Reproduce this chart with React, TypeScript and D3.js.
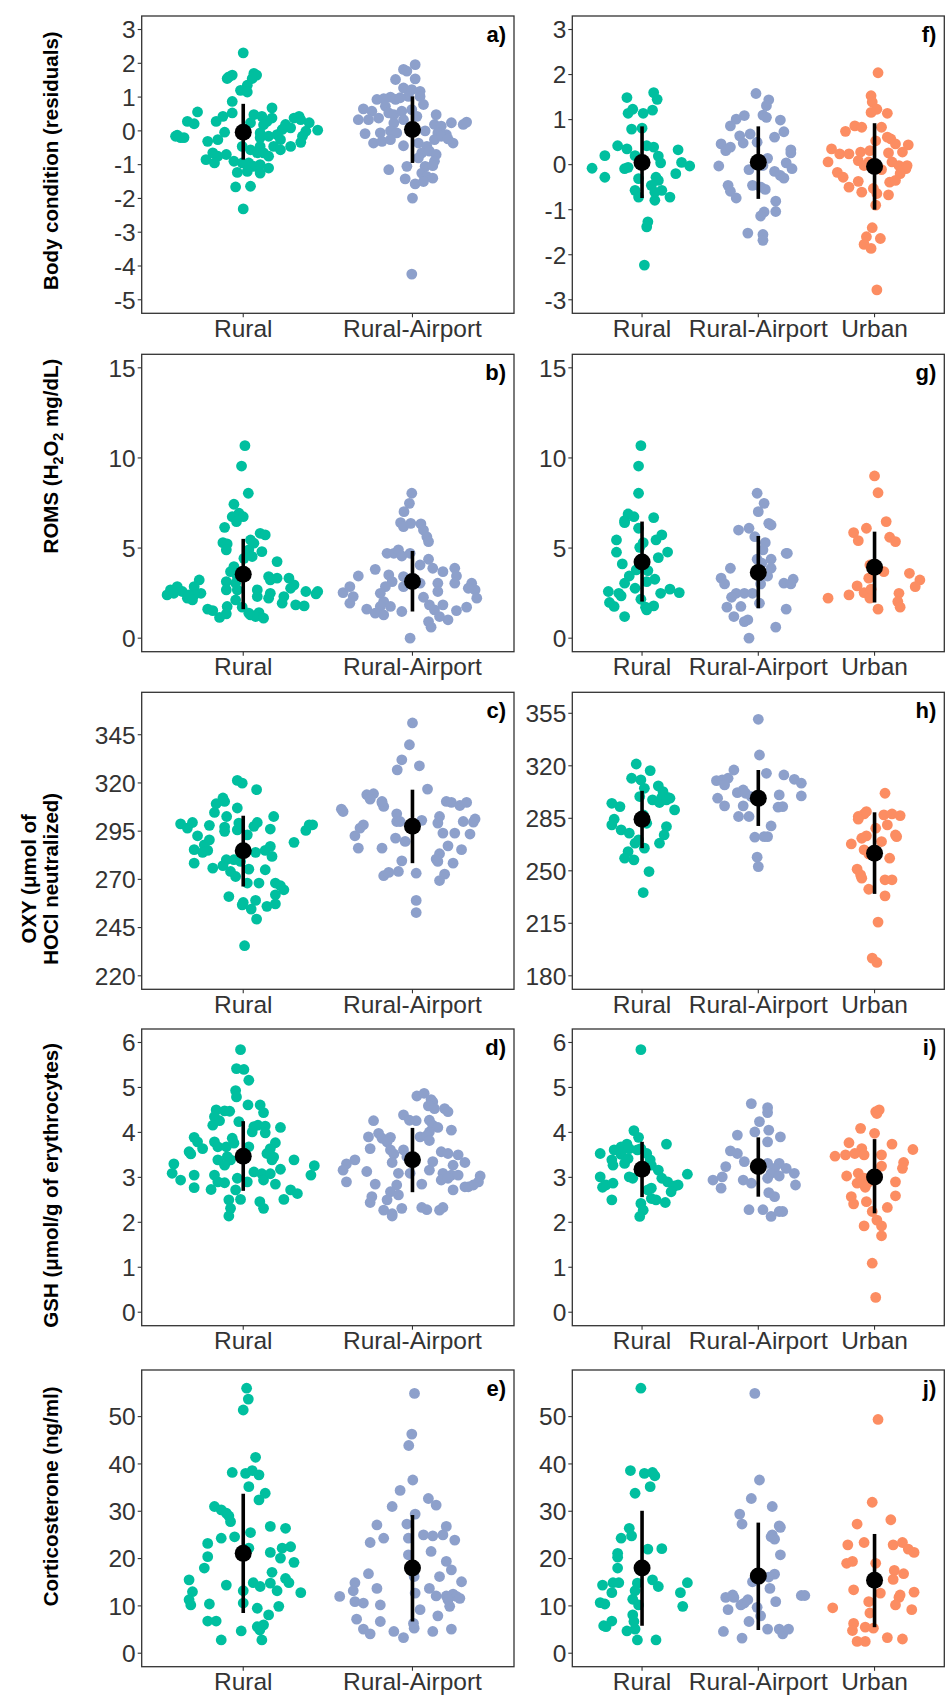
import React from "react";
import * as d3 from "d3";

type Pt = [number, number]; // [jitter offset in category units, value]
type Summ = [number, number, number]; // [mean, lower, upper]

const cats2 = ["Rural", "Rural-Airport"];
const cats3 = ["Rural", "Rural-Airport", "Urban"];
const groupColors: Record<string, string> = { Rural: "#00BF9F", "Rural-Airport": "#8DA0CB", Urban: "#FC8D62" };

// ---- Body condition ----
const aRural: Pt[] = [[0,2.31],[-0.085,1.6],[-0.065,1.65],[-0.095,1.55],[0.063,1.7],[0.079,1.65],[0.053,1.55],[0.024,1.35],[-0.016,1.2],[0.024,1.15],[-0.065,0.87],[-0.27,0.56],[-0.33,0.28],[-0.29,0.21],[-0.39,-0.13],[-0.37,-0.2],[-0.35,-0.2],[-0.4,-0.16],[-0.065,0.53],[-0.12,0.43],[-0.16,0.28],[0.063,0.48],[0.11,0.43],[0.17,0.68],[0.17,0.38],[0.14,0.28],[0.12,0.18],[-0.21,-0.31],[-0.15,-0.26],[-0.11,-0.04],[0.043,0.24],[0.10,-0.06],[0.10,-0.2],[0.15,-0.16],[0.20,-0.11],[0.23,0.04],[0.25,0.19],[0.28,0.09],[0.22,-0.26],[0.30,0.38],[0.33,0.43],[0.34,0.33],[0.39,0.24],[0.44,0.02],[0.37,-0.01],[0.35,-0.16],[0.34,-0.34],[0.28,-0.46],[0.18,-0.46],[0.22,-0.56],[-0.006,-0.46],[0.043,-0.56],[0.10,-0.46],[0.083,-0.65],[0.12,-0.65],[-0.18,-0.65],[-0.15,-0.75],[-0.10,-0.70],[-0.22,-0.85],[-0.17,-0.95],[-0.055,-0.90],[-0.006,-0.95],[0.033,-0.95],[0.063,-1.05],[0.10,-1.0],[0.15,-0.75],[0.15,-1.1],[0.10,-1.25],[0.024,-1.2],[-0.035,-1.23],[-0.045,-1.66],[0.043,-1.64],[0,-2.31]];
const aAirport: Pt[] = [[0.016,1.96],[-0.053,1.82],[-0.033,1.77],[-0.10,1.52],[0.016,1.54],[-0.053,1.27],[-0.004,1.22],[0.045,1.17],[-0.024,1.02],[-0.21,0.93],[-0.17,0.95],[-0.13,1.0],[-0.10,0.93],[-0.073,0.98],[0.045,1.02],[0.065,0.78],[-0.29,0.65],[-0.24,0.58],[-0.16,0.73],[-0.14,0.53],[-0.11,0.48],[-0.063,0.58],[-0.004,0.63],[0.026,0.43],[-0.32,0.33],[-0.26,0.33],[-0.20,0.38],[-0.11,0.23],[-0.053,0.33],[0.14,0.48],[0.13,0.19],[0.17,0.14],[0.23,0.24],[0.30,0.19],[0.32,0.26],[-0.28,-0.08],[-0.19,-0.06],[-0.13,0],[-0.093,-0.06],[0.075,0],[0.15,-0.06],[0.20,-0.11],[0.24,-0.36],[-0.23,-0.36],[-0.18,-0.31],[-0.13,-0.26],[-0.053,-0.44],[0.035,-0.36],[0.085,-0.46],[0.13,-0.26],[0.17,-0.16],[0.21,-0.24],[0.055,-0.65],[0.10,-0.60],[0.14,-0.70],[0.13,-0.90],[0.035,-0.80],[-0.14,-1.15],[-0.033,-1.05],[0.075,-1.05],[0.12,-1.03],[0.055,-1.25],[0.085,-1.35],[0.12,-1.40],[-0.043,-1.42],[0.016,-1.57],[0.065,-1.50],[0,-1.99],[-0.004,-4.24]];
const fRural: Pt[] = [[-0.13,1.49],[0.10,1.60],[0.13,1.45],[-0.12,1.14],[-0.08,1.23],[0.01,1.14],[0.09,1.21],[-0.09,0.79],[0,0.81],[-0.21,0.42],[-0.13,0.35],[0.04,0.42],[0.10,0.39],[0.31,0.33],[-0.32,0.20],[-0.43,-0.08],[-0.32,-0.28],[-0.06,0.20],[0.14,0.19],[0.16,0.04],[-0.15,-0.09],[-0.12,-0.06],[0.34,0.05],[0.41,-0.03],[0.29,-0.20],[-0.03,-0.31],[0.12,-0.28],[0.14,-0.35],[0.08,-0.46],[0.17,-0.57],[0.24,-0.72],[-0.06,-0.57],[-0.03,-0.72],[0.11,-0.61],[0.11,-0.79],[0.05,-1.27],[0.04,-1.38],[0.02,-2.23]];
const fAirport: Pt[] = [[-0.02,1.58],[0.09,1.44],[0.07,1.31],[-0.12,1.09],[-0.19,1.01],[-0.24,0.86],[0.04,1.10],[0.07,1.05],[0.19,0.99],[0.22,0.73],[-0.16,0.64],[-0.07,0.68],[-0.13,0.48],[0.14,0.61],[-0.32,0.46],[-0.28,0.31],[-0.24,0.39],[-0.01,0.50],[0.28,0.33],[0.28,0.26],[-0.34,-0.03],[0.08,0.14],[-0.08,-0.11],[0.04,-0.02],[0.24,0.04],[0.29,-0.09],[0.14,-0.15],[0.19,-0.24],[0.22,-0.30],[-0.26,-0.46],[-0.24,-0.59],[-0.19,-0.74],[-0.05,-0.46],[0.02,-0.50],[0.06,-0.55],[0.15,-0.81],[0.15,-1.04],[0.05,-1.05],[0.02,-1.14],[-0.09,-1.52],[0.04,-1.55],[0.04,-1.68]];
const fUrban: Pt[] = [[0.03,2.04],[-0.03,1.53],[-0.02,1.39],[0.02,1.23],[-0.03,1.16],[0.11,1.14],[-0.17,0.86],[-0.11,0.83],[-0.25,0.74],[0.06,0.83],[0.01,0.53],[0.11,0.61],[0.14,0.57],[0.18,0.46],[0.29,0.44],[-0.37,0.35],[-0.30,0.24],[-0.22,0.24],[-0.12,0.28],[-0.04,0.31],[0.12,0.26],[0.24,0.28],[-0.40,0.06],[-0.14,0.09],[-0.05,0.06],[0.15,0.06],[0.21,-0.02],[0.28,-0.02],[0.27,-0.09],[-0.09,-0.02],[-0.32,-0.17],[-0.27,-0.28],[0.06,-0.11],[0.22,-0.20],[0.13,-0.39],[0.18,-0.35],[-0.14,-0.37],[-0.22,-0.50],[-0.11,-0.61],[-0.01,-0.53],[0.02,-0.64],[0.12,-0.67],[0.01,-0.90],[-0.02,-1.40],[-0.07,-1.60],[-0.09,-1.77],[-0.03,-1.86],[0.05,-1.64],[0.02,-2.78]];

// ---- ROMS ----
const bRural: Pt[] = [[0.01,10.68],[-0.01,9.55],[0.03,8.04],[-0.055,7.43],[-0.065,6.74],[-0.025,6.93],[0,6.74],[-0.04,6.47],[-0.11,6.15],[0.10,5.82],[0.13,5.73],[-0.12,5.30],[-0.095,5.23],[-0.10,4.90],[0.043,5.45],[0.063,5.27],[0.033,4.90],[0.11,4.80],[0.053,4.53],[0.004,4.43],[0.20,4.25],[-0.055,3.97],[-0.075,3.69],[-0.035,3.42],[0.15,3.42],[0.20,3.33],[0.16,3.23],[0.27,3.33],[0.30,2.96],[0.28,2.77],[-0.26,3.23],[-0.29,2.86],[-0.25,2.49],[-0.29,2.40],[-0.43,2.68],[-0.45,2.40],[-0.39,2.86],[-0.41,2.49],[-0.36,2.59],[-0.33,2.22],[-0.32,2.40],[-0.30,2.12],[-0.10,3.14],[-0.10,2.68],[-0.045,3.05],[-0.035,2.68],[0.083,2.68],[0.083,2.31],[0.16,2.49],[0.15,2.22],[0.24,2.31],[0.23,1.94],[0.37,2.59],[0.44,2.59],[0.43,2.46],[0.31,1.85],[0.36,1.79],[-0.21,1.61],[-0.18,1.53],[-0.095,1.76],[-0.10,1.35],[-0.14,1.15],[-0.045,2.12],[-0.006,1.72],[0.043,1.29],[0.093,1.42],[0.073,1.20],[0.12,1.11],[0.033,1.39]];
const bAirport: Pt[] = [[-0.004,8.04],[-0.018,7.48],[-0.05,7.02],[-0.07,6.41],[-0.053,6.19],[-0.01,6.37],[0.05,6.34],[0.065,6.00],[0.085,5.63],[0.095,5.36],[-0.15,4.71],[-0.11,4.71],[-0.083,4.90],[-0.063,4.56],[-0.014,4.71],[0.045,4.06],[0.095,4.38],[0.12,3.88],[0.18,3.69],[-0.22,3.82],[-0.32,3.45],[-0.14,3.51],[-0.12,3.14],[-0.16,2.86],[-0.053,3.42],[-0.053,2.86],[0.045,3.05],[0.065,2.27],[0.15,3.05],[0.15,2.59],[0.25,3.88],[0.26,3.45],[0.25,3.05],[0.35,3.05],[0.37,2.68],[0.38,2.22],[0.33,2.77],[-0.41,2.53],[-0.37,2.86],[-0.37,1.94],[-0.35,2.31],[-0.19,2.49],[-0.17,2.03],[-0.19,1.76],[-0.13,1.76],[-0.27,1.61],[-0.22,1.39],[-0.17,1.29],[-0.063,1.48],[0.10,1.85],[0.13,1.57],[0.18,1.85],[0.26,1.53],[0.32,1.72],[0.21,1.02],[0.16,1.20],[0.095,0.92],[0.11,0.61],[-0.014,0]];
const gRural: Pt[] = [[-0.01,10.68],[-0.03,9.55],[-0.03,8.04],[-0.12,6.89],[-0.15,6.52],[-0.07,6.74],[-0.15,6.41],[-0.03,6.10],[0.10,6.69],[-0.22,5.45],[-0.22,4.77],[-0.17,4.12],[0.01,5.30],[-0.02,5.04],[0.12,5.45],[0.17,5.73],[0.22,4.78],[0.14,4.47],[-0.11,3.45],[-0.15,3.05],[-0.05,3.79],[0.05,3.75],[0.11,3.27],[0.04,3.14],[-0.29,2.59],[-0.20,2.49],[-0.18,2.35],[-0.06,2.77],[0.16,2.49],[0.24,2.72],[0.32,2.53],[-0.28,1.98],[-0.24,1.76],[-0.15,1.20],[-0.01,2.16],[0.03,1.72],[0.10,1.79],[0.04,1.57]];
const gAirport: Pt[] = [[-0.01,8.04],[0.05,7.48],[0,7.02],[0.09,6.37],[0.11,6.28],[-0.17,6.00],[-0.08,6.10],[-0.03,5.63],[0.06,5.30],[0.04,4.90],[-0.01,4.38],[0.11,4.38],[0.03,4.16],[0.25,4.71],[0.24,4.71],[-0.24,3.88],[-0.32,3.33],[-0.29,3.01],[0.11,3.88],[0.08,3.45],[0.02,3.01],[0.22,3.05],[0.30,3.27],[0.28,3.01],[-0.19,2.49],[-0.12,2.49],[-0.05,2.49],[-0.23,2.27],[-0.27,1.72],[-0.15,1.76],[-0.21,1.20],[-0.12,0.92],[-0.09,1.02],[0.01,1.94],[0.24,1.61],[0.15,0.61],[-0.08,0]];
const gUrban: Pt[] = [[0,9.0],[0.03,8.07],[0.10,6.47],[-0.07,6.10],[-0.18,5.86],[-0.14,5.41],[0.13,5.60],[0.18,5.36],[-0.04,4.06],[0.08,3.69],[-0.05,3.33],[0.30,3.60],[0.39,3.23],[0.35,2.86],[-0.15,2.90],[-0.22,2.40],[-0.40,2.22],[-0.09,2.53],[-0.04,2.22],[-0.03,2.72],[0.21,2.49],[0.20,2.03],[0.22,1.72],[0.03,1.61]];

// ---- OXY ----
const cRural: Pt[] = [[-0.035,321.3],[-0.006,319.9],[0.079,316.5],[-0.12,312.2],[-0.11,310.4],[-0.16,309.2],[-0.17,304.7],[-0.035,307.0],[-0.098,302.6],[-0.20,298.0],[-0.11,297.1],[-0.11,294.9],[-0.035,295.7],[-0.026,299.2],[0.063,297.5],[0.083,299.5],[-0.37,298.8],[-0.33,296.6],[-0.30,299.5],[-0.27,292.6],[0.18,302.6],[0.16,296.1],[0.39,298.3],[0.37,295.4],[0.41,298.3],[0.30,289.2],[-0.20,290.5],[-0.23,287.9],[-0.29,285.4],[-0.24,284.0],[-0.21,285.0],[-0.29,278.4],[0.024,293.1],[0.073,284.0],[0.13,285.0],[0.16,287.1],[0.17,281.9],[-0.10,280.2],[-0.055,280.2],[-0.016,279.3],[-0.18,275.8],[-0.12,277.1],[-0.075,274.1],[-0.045,271.5],[0.033,275.3],[0.13,275.0],[0.024,268.1],[0.093,268.1],[0.19,268.1],[0.22,266.7],[0.24,264.6],[0.19,262.0],[-0.085,261.1],[-0.006,256.8],[0,258.0],[0.073,259.1],[0.047,254.6],[0.14,256.0],[0.19,257.3],[0.079,249.4],[0.008,235.6]];
const cAirport: Pt[] = [[0,351.1],[-0.018,339.8],[-0.063,332.0],[-0.09,326.8],[0.041,328.9],[0.089,316.8],[-0.23,314.4],[-0.27,313.9],[-0.25,311.6],[-0.18,309.6],[-0.17,307.8],[-0.18,310.4],[0.20,310.4],[0.23,309.9],[0.28,308.3],[0.32,309.9],[-0.42,306.4],[-0.41,305.2],[-0.093,304.0],[-0.093,300.0],[-0.073,300.0],[0.055,300.6],[0.16,302.6],[0.15,299.2],[0.30,300.0],[0.37,301.3],[0.36,299.7],[-0.29,298.3],[-0.31,296.6],[-0.34,292.6],[-0.32,286.2],[-0.18,286.2],[-0.10,291.4],[-0.043,289.7],[0.18,294.0],[0.25,294.0],[0.34,293.5],[0.21,287.4],[0.29,285.4],[0.16,283.3],[0.14,280.5],[0.15,279.3],[0.24,278.4],[-0.063,279.6],[-0.17,271.9],[-0.14,273.6],[-0.083,274.1],[0.022,273.2],[0.19,272.7],[0.16,269.4],[0.022,259.1],[0.022,252.8]];
const hRural: Pt[] = [[-0.05,321.2],[0.07,316.8],[-0.09,311.7],[-0.01,310.6],[0.02,305.0],[0.14,306.6],[0.18,302.8],[0.22,299.0],[0.09,297.3],[0.15,295.5],[-0.02,299.5],[0.17,299.0],[0.21,297.3],[0.24,298.4],[-0.26,295.0],[-0.19,292.8],[0.28,290.6],[-0.24,284.4],[-0.26,280.6],[-0.18,277.3],[-0.11,275.1],[0.01,287.3],[0.04,281.7],[0.21,279.5],[0.19,273.9],[0.15,268.4],[-0.06,268.4],[-0.03,270.6],[0.02,265.1],[-0.12,262.8],[-0.15,258.4],[-0.07,257.3],[0.06,249.5],[0.01,235.5]];
const hAirport: Pt[] = [[0,351.0],[0.01,327.2],[-0.21,317.2],[0.07,315.0],[0.22,313.9],[-0.36,310.1],[-0.31,310.6],[-0.26,311.7],[-0.29,307.3],[0.31,311.0],[0.37,308.4],[0.37,299.9],[-0.18,302.1],[-0.13,303.9],[-0.11,301.7],[-0.35,298.4],[-0.29,293.3],[-0.06,299.5],[0.18,300.6],[0.17,292.4],[0.21,292.8],[-0.13,293.3],[-0.08,286.2],[-0.17,286.2],[0.11,279.9],[-0.03,272.4],[0.05,272.8],[0.08,272.8],[-0.01,259.1],[0,252.8]];
const hUrban: Pt[] = [[0.09,301.7],[-0.14,286.2],[-0.09,287.9],[-0.07,289.5],[-0.14,284.4],[0.08,287.3],[0.15,287.9],[0.22,286.8],[0.11,280.6],[0.01,278.4],[-0.11,271.7],[-0.07,273.3],[0.18,273.9],[0.19,272.8],[-0.20,267.9],[0.06,269.5],[-0.09,264.0],[-0.05,261.3],[0.13,258.4],[-0.15,251.1],[-0.12,247.3],[-0.11,245.1],[0.09,244.0],[0.15,244.0],[-0.05,237.7],[0.09,233.3],[0.03,215.8],[-0.02,191.8],[0.02,188.9]];

// ---- GSH ----
const dRural: Pt[] = [[-0.016,5.84],[-0.04,5.42],[0.004,5.40],[0.033,5.16],[-0.045,4.93],[-0.04,4.79],[0.028,4.61],[0.10,4.61],[0.12,4.44],[-0.16,4.50],[-0.11,4.48],[-0.08,4.47],[-0.17,4.35],[-0.14,4.26],[-0.18,4.16],[-0.026,4.24],[0.063,4.13],[0.087,4.16],[0.13,4.14],[0.22,4.11],[0.053,4.01],[0.13,3.99],[-0.29,3.89],[-0.27,3.79],[-0.24,3.64],[-0.32,3.57],[-0.31,3.52],[-0.17,3.79],[-0.15,3.68],[-0.10,3.68],[-0.065,3.87],[-0.055,3.76],[0.033,3.68],[0.19,3.77],[0.16,3.64],[0.14,3.53],[0.17,3.39],[0.18,3.45],[-0.15,3.39],[-0.094,3.46],[-0.075,3.39],[-0.11,3.27],[0.30,3.39],[-0.41,3.30],[-0.42,3.09],[-0.37,2.94],[-0.29,3.05],[-0.29,2.77],[-0.17,3.05],[-0.15,2.90],[-0.11,2.88],[-0.19,2.73],[-0.035,2.98],[0.024,2.90],[0.063,3.12],[0.11,3.08],[0.12,2.94],[0.16,3.08],[0.22,3.18],[0.19,2.85],[0.42,3.26],[0.40,3.05],[-0.045,2.72],[-0.016,2.51],[-0.085,2.50],[-0.075,2.31],[-0.085,2.14],[0.098,2.46],[0.12,2.31],[0.28,2.72],[0.32,2.64],[0.24,2.51]];
const dAirport: Pt[] = [[0.026,4.81],[0.069,4.87],[0.11,4.73],[0.12,4.68],[0.094,4.59],[0.13,4.53],[0.19,4.53],[0.21,4.46],[-0.053,4.39],[-0.018,4.27],[0.022,4.26],[0.10,4.27],[0.12,4.16],[0.15,4.11],[0.10,4.01],[0.23,4.05],[-0.23,4.26],[-0.26,3.90],[-0.20,3.98],[-0.18,3.87],[-0.13,3.89],[-0.15,3.79],[0.045,3.90],[0.085,3.93],[0.10,3.82],[-0.25,3.64],[-0.13,3.61],[-0.11,3.52],[-0.053,3.61],[-0.033,3.46],[0.17,3.57],[0.21,3.53],[0.27,3.50],[0.31,3.33],[0.12,3.35],[0.24,3.27],[0.10,3.16],[-0.34,3.39],[-0.39,3.30],[-0.41,3.16],[-0.27,3.13],[-0.12,3.33],[-0.083,3.09],[-0.014,3.09],[0.18,3.09],[0.23,3.05],[0.27,3.05],[0.17,2.94],[0.21,2.98],[0.40,3.03],[0.39,2.90],[0.33,2.79],[0.36,2.83],[0.31,2.79],[-0.39,2.90],[-0.22,2.85],[-0.093,2.83],[0.055,2.85],[0.24,2.72],[-0.13,2.68],[-0.083,2.61],[-0.24,2.57],[-0.15,2.50],[-0.25,2.44],[0.055,2.33],[0.085,2.28],[-0.063,2.31],[-0.17,2.27],[-0.12,2.19],[0.18,2.33],[0.16,2.27],[-0.12,2.14]];
const iRural: Pt[] = [[-0.01,5.84],[-0.07,4.04],[-0.03,3.89],[0.21,3.74],[-0.36,3.53],[-0.24,3.61],[-0.18,3.68],[-0.13,3.74],[-0.11,3.64],[-0.18,3.51],[-0.04,3.61],[-0.01,3.64],[0.04,3.53],[-0.26,3.39],[-0.25,3.27],[-0.15,3.31],[-0.12,3.42],[0.07,3.39],[0.08,3.27],[-0.08,2.98],[-0.11,3.01],[0.14,3.16],[0.17,2.98],[-0.36,3.01],[-0.34,2.78],[-0.25,2.87],[-0.31,2.83],[0.22,2.90],[0.28,2.81],[0.31,2.83],[0.25,2.68],[0.08,2.76],[0.05,2.72],[-0.26,2.50],[0.08,2.53],[0.12,2.50],[0.20,2.44],[-0.01,2.42],[0.01,2.27],[-0.02,2.13],[0.39,3.07]];
const iAirport: Pt[] = [[-0.06,4.64],[0.08,4.55],[0.08,4.44],[0.01,4.24],[-0.03,4.01],[0.09,4.05],[-0.18,3.94],[0.19,3.90],[0.08,3.79],[-0.24,3.59],[-0.18,3.53],[-0.12,3.35],[-0.28,3.24],[0.08,3.31],[0.18,3.31],[0.24,3.20],[0.31,3.09],[0.14,3.20],[0.11,3.09],[0.18,3.03],[-0.01,3.24],[-0.39,2.94],[-0.32,2.76],[-0.31,3.01],[-0.13,2.94],[-0.06,2.87],[0.32,2.83],[0.08,2.98],[0.09,2.66],[0.14,2.57],[-0.08,2.28],[0.04,2.28],[0.11,2.13],[0.18,2.24],[0.21,2.24]];
const iUrban: Pt[] = [[0.01,4.46],[0.04,4.50],[0.02,4.42],[-0.12,4.09],[0,3.98],[-0.22,3.77],[-0.11,3.64],[0.15,3.74],[0.33,3.62],[-0.34,3.47],[-0.25,3.50],[-0.17,3.53],[-0.09,3.50],[0.06,3.50],[0.06,3.25],[0.25,3.33],[0.24,3.20],[-0.24,3.03],[-0.14,3.09],[-0.09,2.98],[-0.15,2.87],[-0.05,2.90],[-0.08,2.78],[0.18,2.90],[0.18,2.59],[-0.20,2.57],[-0.18,2.41],[-0.07,2.46],[-0.02,2.24],[0.11,2.33],[-0.09,1.92],[0.02,2.05],[0.06,1.92],[0.06,1.70],[-0.02,1.09],[0.01,0.33]];

// ---- Corticosterone ----
const eRural: Pt[] = [[0.02,56.0],[0.03,53.7],[0,51.4],[0.073,41.4],[-0.065,38.2],[0.014,38.0],[0.053,38.6],[0.093,37.7],[0.033,35.2],[0.13,33.8],[0.093,32.4],[-0.17,31.0],[-0.13,30.3],[-0.10,29.6],[-0.085,29.0],[-0.075,27.8],[0.043,25.5],[-0.051,24.6],[-0.13,24.3],[-0.21,23.2],[-0.21,20.4],[-0.23,18.0],[0.16,26.8],[0.25,26.4],[0.033,22.2],[0.16,21.3],[0.23,22.2],[0.28,22.5],[0.22,20.1],[0.30,19.2],[0.17,17.1],[0.25,15.8],[0.27,14.9],[-0.32,15.5],[-0.30,13.0],[-0.32,11.3],[-0.31,10.2],[-0.10,14.4],[0,13.2],[0.059,14.9],[0.10,14.1],[0.16,14.8],[0.20,13.2],[0.34,12.8],[-0.20,10.4],[0,10.6],[0.083,9.5],[0.21,9.9],[0.15,8.1],[-0.21,6.8],[-0.16,6.8],[0.083,5.6],[0.12,6.0],[0.098,4.9],[-0.012,4.7],[-0.13,2.8],[0.11,2.8]];
const eAirport: Pt[] = [[0.012,54.9],[-0.004,46.3],[-0.022,43.9],[0.002,36.6],[-0.073,34.4],[-0.12,31.0],[0.094,32.7],[0.14,31.3],[0.016,29.4],[-0.21,27.1],[-0.17,24.3],[-0.25,23.4],[-0.033,27.3],[-0.024,24.3],[0.065,25.0],[0.12,24.8],[0.18,25.0],[0.20,26.8],[0.25,23.9],[0.11,21.5],[-0.024,20.8],[0.20,19.4],[0.23,17.6],[-0.26,16.8],[0.01,16.2],[0.16,16.2],[-0.34,14.9],[-0.35,13.2],[-0.21,13.7],[0.29,15.1],[-0.43,12.0],[-0.34,10.9],[-0.29,10.6],[-0.19,10.2],[0.016,12.7],[0.10,13.7],[0.14,12.1],[0.20,12.1],[0.24,12.5],[0.26,12.0],[0.28,11.6],[0.21,11.3],[0.22,9.9],[0.045,9.2],[0.15,7.9],[-0.33,7.2],[-0.19,6.7],[-0.29,5.1],[-0.25,4.1],[-0.11,4.6],[-0.053,3.3],[0.01,5.3],[0.12,4.6],[0.23,5.1],[0.006,6.3]];
const jRural: Pt[] = [[-0.01,56.0],[-0.10,38.6],[0.02,38.0],[0.09,38.2],[0.11,37.5],[0.07,35.2],[-0.06,33.8],[-0.11,26.4],[-0.09,24.8],[-0.18,24.3],[0.05,22.0],[0.17,22.1],[-0.21,21.1],[-0.21,20.3],[-0.21,18.0],[-0.34,14.4],[-0.25,14.9],[-0.20,14.9],[-0.26,12.8],[-0.04,14.8],[-0.06,13.2],[0.09,15.5],[0.14,14.1],[0.33,12.8],[0.39,14.9],[0.35,9.9],[-0.08,11.4],[-0.03,10.2],[-0.36,10.7],[-0.32,10.4],[-0.08,8.1],[-0.07,6.7],[-0.26,6.8],[-0.33,5.8],[-0.31,5.6],[-0.13,4.7],[-0.06,5.1],[-0.04,2.8],[0.12,2.8]];
const jAirport: Pt[] = [[-0.03,54.9],[0.01,36.6],[-0.06,32.7],[0.12,31.0],[-0.16,29.4],[-0.14,27.3],[0.18,26.9],[0.19,26.6],[0.12,25.0],[0.14,24.1],[0.11,24.6],[0.19,20.8],[0.14,16.7],[0.09,16.1],[-0.05,15.1],[0.10,13.7],[-0.28,11.8],[-0.21,11.8],[-0.22,12.3],[-0.12,10.6],[-0.15,10.2],[-0.09,11.3],[0.15,10.9],[0.37,12.2],[0.40,12.2],[-0.26,9.2],[-0.01,9.7],[0.02,7.9],[-0.08,6.7],[-0.30,4.6],[-0.14,3.2],[0.08,5.1],[0.18,5.1],[0.21,4.1],[0.26,5.1]];
const jUrban: Pt[] = [[0.03,49.4],[-0.02,31.9],[-0.15,27.3],[0.14,28.2],[-0.09,23.4],[-0.23,22.9],[0.16,22.9],[0.24,23.4],[0.29,22.0],[0.34,21.3],[-0.24,19.0],[-0.19,19.4],[0.01,19.0],[0.17,17.5],[0.25,16.8],[0.16,15.6],[-0.18,13.4],[0.05,12.7],[0.22,12.3],[0.21,11.8],[0.34,12.9],[-0.05,10.9],[0.18,10.2],[0.32,9.2],[-0.36,9.6],[-0.04,8.5],[-0.18,6.3],[-0.19,4.8],[-0.08,5.5],[-0.01,5.3],[-0.15,2.5],[-0.08,2.5],[0.11,3.3],[0.24,3.0]];

// ---- summaries: [mean, lower, upper] ----
const aSumm: Summ[] = [[-0.04,-0.85,0.80],[0.04,-0.95,1.02]];
const fSumm: Summ[] = [[0.05,-0.74,0.85],[0.055,-0.76,0.85],[-0.04,-1.0,0.92]];
const bSumm: Summ[] = [[3.55,1.61,5.51],[3.14,1.48,4.84]];
const gSumm: Summ[] = [[4.23,2.03,6.47],[3.64,1.66,5.67],[3.93,1.98,5.91]];
const cSumm: Summ[] = [[284.8,266.3,303.0],[297.5,278.4,316.5]];
const hSumm: Summ[] = [[284.4,265.1,303.3],[298.4,279.9,317.2],[261.7,234.6,289.0]];
const dSumm: Summ[] = [[3.47,2.70,4.25],[3.39,2.67,4.10]];
const iSumm: Summ[] = [[3.18,2.56,3.79],[3.24,2.57,3.89],[3.01,2.2,3.85]];
const eSumm: Summ[] = [[21.1,8.5,33.7],[18.0,6.7,29.2]];
const jSumm: Summ[] = [[18.0,5.8,30.1],[16.3,4.9,27.6],[15.4,5.5,25.2]];

// ---- ticks ----
const ticksBodyL = [-5, -4, -3, -2, -1, 0, 1, 2, 3];
const ticksBodyR = [-3, -2, -1, 0, 1, 2, 3];
const ticksRoms = [0, 5, 10, 15];
const ticksOxyL = [220, 245, 270, 295, 320, 345];
const ticksOxyR = [180, 215, 250, 285, 320, 355];
const ticksGsh = [0, 1, 2, 3, 4, 5, 6];
const ticksCort = [0, 10, 20, 30, 40, 50];

interface PanelDef {
  label: string; col: number; row: number; cats: string[];
  groups: Pt[][]; summ: Summ[]; limits: [number, number]; ticks: number[];
}

const panels: PanelDef[] = [
  { label: "a)", col: 0, row: 0, cats: cats2, groups: [aRural, aAirport], summ: aSumm, limits: [-5, 3], ticks: ticksBodyL },
  { label: "f)", col: 1, row: 0, cats: cats3, groups: [fRural, fAirport, fUrban], summ: fSumm, limits: [-3, 3], ticks: ticksBodyR },
  { label: "b)", col: 0, row: 1, cats: cats2, groups: [bRural, bAirport], summ: bSumm, limits: [0, 15], ticks: ticksRoms },
  { label: "g)", col: 1, row: 1, cats: cats3, groups: [gRural, gAirport, gUrban], summ: gSumm, limits: [0, 15], ticks: ticksRoms },
  { label: "c)", col: 0, row: 2, cats: cats2, groups: [cRural, cAirport], summ: cSumm, limits: [220, 360], ticks: ticksOxyL },
  { label: "h)", col: 1, row: 2, cats: cats3, groups: [hRural, hAirport, hUrban], summ: hSumm, limits: [180, 360], ticks: ticksOxyR },
  { label: "d)", col: 0, row: 3, cats: cats2, groups: [dRural, dAirport], summ: dSumm, limits: [0, 6], ticks: ticksGsh },
  { label: "i)", col: 1, row: 3, cats: cats3, groups: [iRural, iAirport, iUrban], summ: iSumm, limits: [0, 6], ticks: ticksGsh },
  { label: "e)", col: 0, row: 4, cats: cats2, groups: [eRural, eAirport], summ: eSumm, limits: [0, 57], ticks: ticksCort },
  { label: "j)", col: 1, row: 4, cats: cats3, groups: [jRural, jAirport, jUrban], summ: jSumm, limits: [0, 57], ticks: ticksCort },
];

// layout
const W = 951, H = 1696;
const colX: [number, number][] = [[141.7, 514], [572.3, 944.3]];
const rowY: [number, number][] = [[16, 313.3], [354.3, 651.7], [692.3, 989.3], [1029, 1325.7], [1370, 1666.7]];
const titleShift = [-4, -47, 38, 8, -22];
const FONT = "'Liberation Sans', Arial, Helvetica, sans-serif";
const TICK_FS = 24.5;
const TITLE_FS = 20.5;
const AXIS_COL = "#333333";

function Panel({ p }: { p: PanelDef }) {
  const [x0, x1] = colX[p.col];
  const [y0, y1] = rowY[p.row];
  const span = p.limits[1] - p.limits[0];
  const y = d3.scaleLinear().domain([p.limits[0] - 0.05 * span, p.limits[1] + 0.05 * span]).range([y1, y0]);
  const x = d3.scalePoint<string>().domain(p.cats).range([x0, x1]).padding(0.6);
  const step = x.step();
  return (
    <g>
      {p.groups.map((pts, gi) => (
        <g key={gi} fill={groupColors[p.cats[gi]]}>
          {pts.map((d, i) => (
            <circle key={i} cx={(x(p.cats[gi]) as number) + d[0] * step} cy={y(d[1])} r={5.4} />
          ))}
        </g>
      ))}
      {p.summ.map((s, gi) => {
        const cx = x(p.cats[gi]) as number;
        return (
          <g key={"s" + gi}>
            <line x1={cx} x2={cx} y1={y(s[1])} y2={y(s[2])} stroke="#000" strokeWidth={3.6} />
            <circle cx={cx} cy={y(s[0])} r={8.5} fill="#000" />
          </g>
        );
      })}
      <rect x={x0} y={y0} width={x1 - x0} height={y1 - y0} fill="none" stroke={AXIS_COL} strokeWidth={1.3} />
      {p.ticks.map((t) => (
        <g key={"yt" + t}>
          <line x1={x0 - 4} x2={x0} y1={y(t)} y2={y(t)} stroke={AXIS_COL} strokeWidth={1.1} />
          <text x={x0 - 6} y={y(t)} dy="0.36em" textAnchor="end" fontSize={TICK_FS} fill={AXIS_COL} fontFamily={FONT}>{t}</text>
        </g>
      ))}
      {p.cats.map((c) => (
        <g key={"xt" + c}>
          <line x1={x(c)} x2={x(c)} y1={y1} y2={y1 + 4} stroke={AXIS_COL} strokeWidth={1.1} />
          <text x={x(c)} y={y1 + 23.5} textAnchor="middle" fontSize={TICK_FS} fill={AXIS_COL} fontFamily={FONT}>{c}</text>
        </g>
      ))}
      <text x={x1 - 8} y={y0 + 25.5} textAnchor="end" fontSize={22} fontWeight="bold" fill="#000" fontFamily={FONT}>{p.label}</text>
    </g>
  );
}

function YTitle({ row }: { row: number }) {
  const [y0, y1] = rowY[row];
  const cy = (y0 + y1) / 2 + titleShift[row];
  const common = { textAnchor: "middle" as const, fontSize: TITLE_FS, fontWeight: "bold" as const, fill: "#000", fontFamily: FONT };
  if (row === 0) return <text transform={`translate(58,${cy}) rotate(-90)`} {...common}>Body condition (residuals)</text>;
  if (row === 1)
    return (
      <text transform={`translate(58,${cy}) rotate(-90)`} {...common}>
        ROMS (H<tspan fontSize={TITLE_FS * 0.7} dy={5}>2</tspan><tspan dy={-5}>O</tspan><tspan fontSize={TITLE_FS * 0.7} dy={5}>2</tspan><tspan dy={-5}> mg/dL)</tspan>
      </text>
    );
  if (row === 2)
    return (
      <g>
        <text transform={`translate(36,${cy}) rotate(-90)`} {...common}>OXY (μmol of</text>
        <text transform={`translate(58,${cy}) rotate(-90)`} {...common}>HOCl neutralized)</text>
      </g>
    );
  if (row === 3) return <text transform={`translate(58,${cy}) rotate(-90)`} {...common}>GSH (μmol/g of erythrocytes)</text>;
  return <text transform={`translate(58,${cy}) rotate(-90)`} {...common}>Corticosterone (ng/ml)</text>;
}

export default function App() {
  return (
    <svg width={W} height={H} style={{ position: "absolute", left: 0, top: 0, display: "block", background: "#fff" }}>
      <rect x={0} y={0} width={W} height={H} fill="#fff" />
      {panels.map((p) => <Panel key={p.label} p={p} />)}
      {[0, 1, 2, 3, 4].map((r) => <YTitle key={r} row={r} />)}
    </svg>
  );
}
